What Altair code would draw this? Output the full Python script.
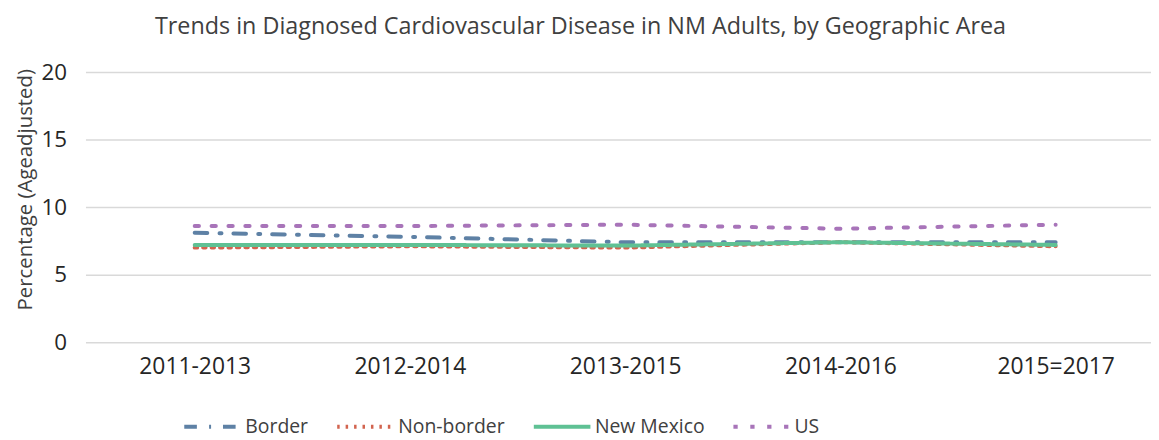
import altair as alt
import pandas as pd

periods = ["2011-2013", "2012-2014", "2013-2015", "2014-2016", "2015=2017"]
series_names = ["Border", "Non-border", "New Mexico", "US"]
border = [8.1, 7.8, 7.4, 7.4, 7.4]
non_border = [7.0, 7.1, 7.0, 7.4, 7.1]
new_mexico = [7.2, 7.2, 7.15, 7.4, 7.2]
us = [8.6, 8.6, 8.7, 8.4, 8.7]

colors = ["#5e81a5", "#d2644f", "#5fc194", "#a874b9"]
dashes = [[12.7, 12.3, 2, 12], [2.5, 6], [1, 0], [4.3, 12.7]]

rows = []
for name, vals in zip(series_names, [border, non_border, new_mexico, us]):
    for i, (p, v) in enumerate(zip(periods, vals)):
        rows.append({"Idx": i, "Period": p, "Series": name, "Value": v})
df = pd.DataFrame(rows)

FONT = "Open Sans"
label_expr = "[" + ",".join("'" + p + "'" for p in periods) + "][datum.value]"

chart = alt.Chart(df).mark_line(strokeWidth=4, strokeCap="round").encode(
    x=alt.X("Idx:Q",
            scale=alt.Scale(domain=[-0.5075, 4.443], nice=False, zero=False),
            axis=alt.Axis(title=None, values=list(range(len(periods))), labelExpr=label_expr,
                          labelAngle=0, ticks=False, domain=False,
                          grid=False, labelPadding=14, labelFontSize=23,
                          labelColor="#262626", labelFont=FONT, labelFlush=False,
                          labelOverlap=False)),
    y=alt.Y("Value:Q", scale=alt.Scale(domain=[0, 20], nice=False),
            axis=alt.Axis(title="Percentage (Ageadjusted)", values=[0, 5, 10, 15, 20],
                          ticks=False, domain=False, gridColor="#d9d9d9", gridWidth=1.5,
                          labelPadding=19, labelFontSize=22.5, labelColor="#262626",
                          labelFont=FONT, titleFont=FONT, titleFontSize=20.5,
                          titleFontWeight="normal", titleColor="#404040",
                          titlePadding=6, titleY=118)),
    color=alt.Color("Series:N", sort=series_names,
                    scale=alt.Scale(domain=series_names, range=colors),
                    legend=alt.Legend(title=None, orient="none", direction="horizontal",
                                      legendX=97, legendY=326,
                                      symbolType="stroke", symbolSize=3250,
                                      symbolStrokeWidth=4, labelFontSize=19.5,
                                      labelFont=FONT, labelColor="#404040",
                                      columnPadding=20, labelOffset=2, labelLimit=300)),
    strokeDash=alt.StrokeDash("Series:N", sort=series_names,
                              scale=alt.Scale(domain=series_names, range=dashes),
                              legend=None),
    detail="Series:N",
).properties(
    width=1073,
    height=272,
    title=alt.TitleParams("Trends in Diagnosed Cardiovascular Disease in NM Adults, by Geographic Area",
                          font=FONT, fontSize=23.5, fontWeight="normal", color="#404040",
                          anchor="middle", dx=-38, offset=23),
    autosize=alt.AutoSizeParams(type="none"),
    padding={"left": 78, "top": 63, "right": 0, "bottom": 97},
).configure_view(stroke=None)

chart.save("out.html", embed_options={"renderer": "svg", "actions": False})
